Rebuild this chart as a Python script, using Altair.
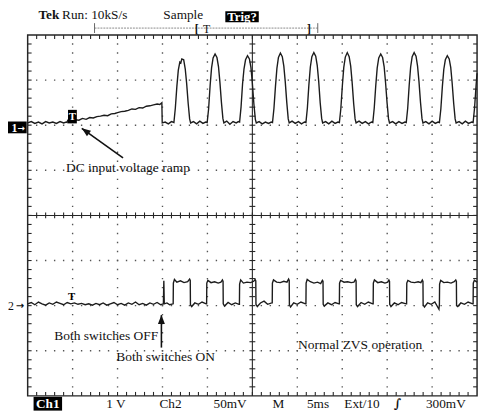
import altair as alt
import numpy as np
import pandas as pd

# ---------------- trace data ----------------
# Channel 1: time in ms (5 ms/div), value in V (1 V/div), referenced to its ground marker
ch1_t = [
    0.0, 0.4, 0.8, 1.2, 1.6, 2.0, 2.4, 2.8, 3.2, 3.6, 4.0, 4.3, 4.4, 4.45,
    4.9, 5.3, 5.7, 6.1, 6.5, 6.9, 7.3, 7.7, 8.1, 8.5, 8.9, 9.3, 9.7, 10.0, 10.4, 10.8,
    11.2, 11.6, 12.0, 12.4, 12.8, 13.2, 13.6, 14.0, 14.4, 14.7, 14.93,
    14.97, 15.3, 15.65, 16.0,
    16.27, 16.43, 16.60, 16.76, 16.93, 17.04, 17.15, 17.36, 17.53, 17.69, 17.86, 18.02, 18.13,
    18.45, 18.80, 19.15, 19.50, 19.80,
    19.97, 20.13, 20.30, 20.46, 20.63, 20.85, 21.06, 21.23, 21.39, 21.56, 21.72, 21.83,
    22.15, 22.50, 22.85, 23.20, 23.45,
    23.58, 23.74, 23.91, 24.07, 24.24, 24.46, 24.67, 24.84, 25.00, 25.17, 25.33, 25.44,
    25.75, 26.10, 26.45, 26.80, 27.10,
    27.24, 27.40, 27.57, 27.73, 27.90, 28.12, 28.33, 28.50, 28.66, 28.83, 28.99, 29.10,
    29.42, 29.77, 30.12, 30.47, 30.80,
    30.96, 31.12, 31.29, 31.45, 31.62, 31.84, 32.05, 32.22, 32.38, 32.55, 32.71, 32.82,
    33.15, 33.50, 33.85, 34.20, 34.52,
    34.68, 34.84, 35.01, 35.17, 35.34, 35.56, 35.77, 35.94, 36.10, 36.27, 36.43, 36.54,
    36.87, 37.22, 37.57, 37.92, 38.25,
    38.40, 38.56, 38.73, 38.89, 39.06, 39.28, 39.49, 39.66, 39.82, 39.99, 40.15, 40.26,
    40.60, 40.95, 41.30, 41.65, 41.97,
    42.12, 42.28, 42.45, 42.61, 42.78, 43.00, 43.21, 43.38, 43.54, 43.71, 43.87, 43.98,
    44.30, 44.65, 45.00, 45.35, 45.66,
    45.81, 45.97, 46.14, 46.30, 46.47, 46.69, 46.90, 47.07, 47.23, 47.40, 47.56, 47.67,
    48.00, 48.35, 48.70, 49.05, 49.40,
    49.56, 49.72, 49.89, 50.00,
]
ch1_v = [
    0.05, 0.08, 0.04, 0.07, 0.03, 0.08, 0.05, 0.07, 0.04, 0.08, 0.05, 0.07, 0.06, 0.11,
    0.09, 0.12, 0.11, 0.15, 0.13, 0.17, 0.16, 0.19, 0.20, 0.22, 0.21, 0.25, 0.26, 0.28, 0.30, 0.31,
    0.33, 0.36, 0.35, 0.39, 0.38, 0.42, 0.43, 0.45, 0.47, 0.46, 0.50,
    0.05, 0.07, 0.03, 0.08,
    0.06, 0.38, 0.86, 1.22, 1.40, 1.38, 1.47, 1.45, 1.25, 0.92, 0.48, 0.14, 0.05,
    0.08, 0.03, 0.09, 0.04, 0.07,
    0.06, 0.36, 0.88, 1.27, 1.49, 1.58, 1.50, 1.30, 0.95, 0.50, 0.15, 0.05,
    0.09, 0.02, 0.08, 0.05, 0.08,
    0.07, 0.40, 0.92, 1.25, 1.45, 1.54, 1.47, 1.28, 0.93, 0.47, 0.13, 0.05,
    0.08, 0.03, 0.07, 0.04, 0.07,
    0.06, 0.37, 0.86, 1.26, 1.50, 1.60, 1.52, 1.31, 0.96, 0.50, 0.14, 0.05,
    0.09, 0.04, 0.08, 0.03, 0.07,
    0.06, 0.38, 0.90, 1.29, 1.52, 1.61, 1.53, 1.32, 0.97, 0.49, 0.15, 0.05,
    0.08, 0.03, 0.09, 0.04, 0.07,
    0.06, 0.36, 0.87, 1.28, 1.51, 1.61, 1.52, 1.31, 0.95, 0.48, 0.14, 0.05,
    0.09, 0.04, 0.08, 0.03, 0.07,
    0.06, 0.38, 0.88, 1.27, 1.49, 1.58, 1.50, 1.30, 0.94, 0.49, 0.14, 0.05,
    0.08, 0.03, 0.08, 0.04, 0.07,
    0.06, 0.37, 0.89, 1.29, 1.52, 1.61, 1.53, 1.31, 0.96, 0.50, 0.15, 0.05,
    0.08, 0.03, 0.09, 0.04, 0.07,
    0.06, 0.36, 0.86, 1.24, 1.45, 1.54, 1.47, 1.28, 0.93, 0.48, 0.14, 0.05,
    0.08, 0.03, 0.09, 0.04, 0.07,
    0.06, 0.38, 0.88, 1.15,
]

# Channel 2: time in ms, value in mV (50 mV/div), referenced to its ground marker
ch2_t = [
    0.0, 0.4, 0.8, 1.2, 1.6, 2.0, 2.4, 2.8, 3.2, 3.6, 4.0, 4.4, 4.8, 5.2, 5.6, 6.0, 6.4, 6.8,
    7.2, 7.6, 8.0, 8.4, 8.8, 9.2, 9.6, 10.0, 10.4, 10.8, 11.2, 11.6, 12.0, 12.4, 12.8, 13.2,
    13.6, 14.0, 14.4, 14.8, 15.1, 15.15, 15.2, 15.5, 15.8,
    16.19, 16.21, 16.33, 16.6, 17.0, 17.4, 17.8, 18.02, 18.09, 18.11, 18.25, 18.6, 19.0, 19.4, 19.86,
    19.91, 19.93, 20.05, 20.4, 20.8, 21.2, 21.5, 21.67, 21.74, 21.76, 21.9, 22.3, 22.7, 23.1, 23.51,
    23.56, 23.58, 23.7, 24.0, 24.4, 24.8, 25.15, 25.31, 25.38, 25.40, 25.55, 25.9, 26.3, 26.7, 27.16,
    27.21, 27.23, 27.35, 27.7, 28.1, 28.5, 28.85, 29.03, 29.10, 29.12, 29.25, 29.6, 30.0, 30.4, 30.91,
    30.96, 30.98, 31.1, 31.45, 31.85, 32.25, 32.6, 32.79, 32.86, 32.88, 33.0, 33.4, 33.8, 34.2, 34.63,
    34.68, 34.70, 34.82, 35.2, 35.6, 36.0, 36.3, 36.47, 36.54, 36.56, 36.7, 37.1, 37.5, 37.9, 38.39,
    38.44, 38.46, 38.58, 38.95, 39.35, 39.75, 40.05, 40.19, 40.26, 40.28, 40.42, 40.8, 41.2, 41.6, 42.11,
    42.16, 42.18, 42.3, 42.65, 43.05, 43.45, 43.75, 43.91, 43.98, 44.00, 44.15, 44.5, 44.9, 45.3, 45.76,
    45.81, 45.83, 45.95, 46.3, 46.7, 47.1, 47.45, 47.63, 47.70, 47.72, 47.85, 48.2, 48.6, 49.0, 49.51,
    49.56, 49.58, 49.7, 50.0,
]
ch2_mv = [
    2, 3.5, 1, 4, 2, 0.5, 3, 1.5, 4, 2.5, 1, 3.5, 2, 3, 1.5, 2.5, 1, 2,
    0.5, 2.5, 1, 3, 0.5, 2, 3.5, 1, 2.5, 0.5, 3, 1.5, 4, 1, 2.5, 0.5,
    3, 1.5, 3.5, 1, 2, 27.6, 2, 3, 1,
    2, 25, 29, 26, 27.5, 25.5, 26.5, 29.5, 28, 1, -1, 3, 1.5, 4, 2,
    2, 25, 28, 25.5, 26.5, 25, 26, 28.5, 27, 2, -0.5, 3.5, 1, 3, 1.5,
    1.5, 24, 28.5, 25, 26, 25.5, 27, 29, 27.5, 1.5, -1, 3, 5, 1.5, 3,
    3, 25, 28.5, 26, 25.5, 27, 26, 29.5, 28, 1, -1.5, 3, 1.5, 4, 2,
    2, 25, 29, 26.5, 25, 26, 24.5, 28, 27, 1.5, -0.5, 3, 1, 3.5, 2,
    2, 25, 28, 26, 26.5, 25.5, 26, 29, 27.5, 1, -1, 3.5, 1.5, 4, 2,
    2, 25, 28.5, 25.5, 26.5, 25, 26, 28.5, 27, 1.5, -1, 3, 1, 3.5, 2,
    2, 25, 28, 26, 25.5, 26.5, 25.5, 28.5, 27, 1, -1.5, 3, 1.5, 4, -4,
    1.5, 24, 28, 25.5, 26, 25, 26.5, 28.5, 27, 0, -1, 3, 1.5, 4, 2,
    2, 25, 28, 26,
]

# ---------------- annotations (time ms, screen divisions) ----------------
ann_text = ["DC input voltage ramp", "Both switches OFF", "Both switches ON", "Normal ZVS operation"]
ann_t = [4.27, 2.95, 9.85, 30.09]
ann_y = [1.06, -2.67, -3.15, -2.87]

arrow_t_tail = [10.61, 14.88]
arrow_y_tail = [1.275, -2.93]
arrow_t_head = [6.02, 14.88]
arrow_y_head = [1.93, -2.21]
arrow_angle = [305.5, 0]

# ---------------- readout text ----------------
footer_text = ["1 V", "Ch2", "50mV", "M", "5ms", "Ext/10", "300mV"]
footer_px = [80, 134, 189, 249, 284, 322, 405]

# graticule major divisions (time ms / screen div)
grid_t = [5, 10, 15, 20, 30, 35, 40, 45]
grid_y = [-3, -2, -1, 1, 2, 3]

# scope settings
T_SPAN = 50.0            # 10 div x 5 ms
CH1_POS, CH1_VPD = 2.0, 1.0     # divisions, V/div
CH2_POS, CH2_VPD = -2.0, 50.0   # divisions, mV/div
W, H = 457, 367

SERIF = "Liberation Serif"
TRACE = "#1c1c1c"
FRAME = "#262626"
GRID = "#555555"

df1 = pd.DataFrame({"t": ch1_t, "y": [CH1_POS + v / CH1_VPD for v in ch1_v], "i": range(len(ch1_t))})
df2 = pd.DataFrame({"t": ch2_t, "y": [CH2_POS + v / CH2_VPD for v in ch2_mv], "i": range(len(ch2_t))})

xs = alt.Scale(domain=[0, T_SPAN], nice=False, zero=False)
ys = alt.Scale(domain=[-4, 4], nice=False, zero=False)


def X(f):
    return alt.X(f, type="quantitative", scale=xs, axis=None)


def Y(f):
    return alt.Y(f, type="quantitative", scale=ys, axis=None)


# dotted graticule lines (one dot per minor division)
vgrid = alt.Chart(pd.DataFrame({"t": grid_t})).mark_rule(
    color=GRID, strokeWidth=1.4, strokeDash=[1.4, 7.775], strokeDashOffset=0.7).encode(
    x=X("t"), y=alt.value(0), y2=alt.value(H))
hgrid = alt.Chart(pd.DataFrame({"y": grid_y})).mark_rule(
    color=GRID, strokeWidth=1.4, strokeDash=[1.4, 7.74], strokeDashOffset=0.7).encode(
    y=Y("y"), x=alt.value(0), x2=alt.value(W))

trace1 = alt.Chart(df1).mark_line(color=TRACE, strokeWidth=1.4).encode(
    x=X("t"), y=Y("y"), order="i:Q")
trace2 = alt.Chart(df2).mark_line(color=TRACE, strokeWidth=1.4).encode(
    x=X("t"), y=Y("y"), order="i:Q")

# graticule: minor ticks on border and centre cross
minor_t = np.round(np.arange(1, 50, 1.0), 3)
minor_y = np.round(np.arange(-3.8, 3.81, 0.2), 3)
ly = 4 * 8 / H      # 4 px in divisions
lx = 4 * 50 / W     # 4 px in ms
cy = 3 * 8 / H
cx = 3 * 50 / W
rows = []
for t in minor_t:
    rows += [dict(x=t, x2=t, y=4, y2=4 - ly), dict(x=t, x2=t, y=-4, y2=-4 + ly),
             dict(x=t, x2=t, y=-cy, y2=cy)]
for v in minor_y:
    rows += [dict(x=0, x2=lx, y=v, y2=v), dict(x=50 - lx, x2=50, y=v, y2=v),
             dict(x=25 - cx, x2=25 + cx, y=v, y2=v)]
rows += [dict(x=25, x2=25, y=-4, y2=4), dict(x=0, x2=50, y=0, y2=0)]
ticks = alt.Chart(pd.DataFrame(rows)).mark_rule(color=FRAME, strokeWidth=1.1).encode(
    x=X("x"), x2="x2:Q", y=Y("y"), y2="y2:Q")

ann_df = pd.DataFrame({"t": ann_t, "y": ann_y, "text": ann_text})
ann = alt.Chart(ann_df).mark_text(align="left", baseline="middle", font=SERIF, fontSize=13.7,
                                  color="#111").encode(x=X("t"), y=Y("y"), text="text:N")

arr_df = pd.DataFrame({"t1": arrow_t_tail, "y1": arrow_y_tail, "t2": arrow_t_head,
                       "y2": arrow_y_head, "a": arrow_angle})
shafts = alt.Chart(arr_df).mark_rule(color="#111", strokeWidth=1.6).encode(
    x=X("t1"), x2="t2:Q", y=Y("y1"), y2="y2:Q")
heads = alt.Chart(arr_df).mark_point(shape="M0,0L0.75,1.9L-0.75,1.9Z", filled=True, size=90,
                                     color="#111", opacity=1).encode(
    x=X("t2"), y=Y("y2"), angle=alt.Angle("a:Q", scale=None))

# trigger markers on the traces
trig_box = alt.Chart(pd.DataFrame({"t1": [4.49], "t2": [5.47], "y1": [2.04], "y2": [2.34]})).mark_rect(
    color="#000").encode(x=X("t1"), x2="t2:Q", y=Y("y1"), y2="y2:Q")
trig_txt = alt.Chart(pd.DataFrame({"t": [4.98, 4.9], "y": [2.18, -1.82], "c": ["white", "black"],
                                   "text": ["T", "T"]})).mark_text(
    font=SERIF, fontSize=11, fontWeight="bold", baseline="middle").encode(
    x=X("t"), y=Y("y"), text="text:N", color=alt.Color("c:N", scale=None))

ONE = alt.Data(values=[{}])


def txt(text, px, py, size=13, bold=False, color="#111", align="left", font=SERIF):
    return alt.Chart(ONE).mark_text(text=text, align=align, baseline="middle", fontSize=size,
                                    fontWeight="bold" if bold else "normal", color=color,
                                    font=font).encode(x=alt.value(px), y=alt.value(py))


def box(x1, x2, y1, y2, color="#000"):
    return alt.Chart(ONE).mark_rect(color=color).encode(
        x=alt.value(x1), x2=alt.value(x2), y=alt.value(y1), y2=alt.value(y2))


def hline(x1, x2, y, color="#888", width=1.0, dash=None):
    kw = dict(color=color, strokeWidth=width)
    if dash:
        kw["strokeDash"] = dash
    return alt.Chart(ONE).mark_rule(**kw).encode(x=alt.value(x1), x2=alt.value(x2), y=alt.value(y))


def vline(x, y1, y2, color="#555", width=1.0):
    return alt.Chart(ONE).mark_rule(color=color, strokeWidth=width).encode(
        x=alt.value(x), y=alt.value(y1), y2=alt.value(y2))


header = [
    txt("Tek", 11, -20, size=13.5, bold=True),
    txt("Run: 10kS/s", 35, -20, size=13.5),
    txt("Sample", 138, -20, size=13.5),
    box(201, 235, -24, -13),
    txt("Trig?", 218, -18.5, size=13, bold=True, color="white", align="center"),
    hline(68, 295, -7, color="#8a8a8a", width=1, dash=[2, 1]),
    vline(68, -12, -2, color="#666"),
    vline(295, -12, -2, color="#666"),
    txt("[", 172, -6.5, size=12, bold=True, align="center"),
    txt("T", 182, -6.5, size=12, align="center"),
    txt("]", 286, -6.5, size=12, bold=True, align="center"),
]

footer = [box(6, 35, 368, 382), txt("Ch1", 20.5, 375.5, size=13.5, bold=True, color="white", align="center")]
for s, px in zip(footer_text, footer_px):
    footer.append(txt(s, px, 375, size=13.5))
footer.append(txt("\u222b", 376, 375, size=13, bold=True, align="center", font="DejaVu Serif"))

markers = [
    box(-20, -1, 88, 100),
    txt("1", -13.5, 94.5, size=12, bold=True, color="white", align="center"),
    txt("\u2192", -6.5, 94.5, size=9, bold=True, color="white", align="center", font="DejaVu Sans"),
    txt("2", -17, 275.5, size=12, align="center"),
    txt("\u2192", -8, 275.5, size=10, bold=True, align="center", font="DejaVu Sans"),
]

chart = alt.layer(
    vgrid, hgrid, ticks, trace1, trace2, shafts, heads, ann, trig_box, trig_txt,
    *header, *footer, *markers,
).properties(
    width=W, height=H,
    autosize=alt.AutoSizeParams(type="none"),
    padding={"left": 20, "top": 24, "right": 4, "bottom": 14},
    background="white",
).configure_view(stroke=FRAME, strokeWidth=1.5)

chart.save("out.html", embed_options={"renderer": "svg", "actions": False})
